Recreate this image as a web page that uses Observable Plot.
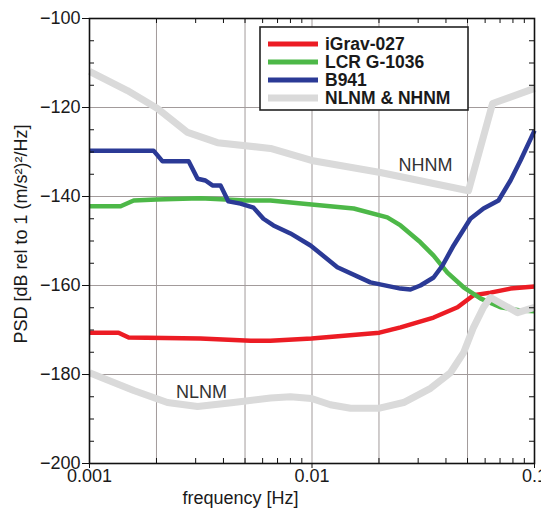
<!DOCTYPE html>
<html>
<head>
<meta charset="utf-8">
<script src="https://cdn.jsdelivr.net/npm/d3@7"></script>
<script src="https://cdn.jsdelivr.net/npm/@observablehq/plot@0.6"></script>
<style>
  html, body { margin: 0; padding: 0; background: #fff; }
  #chart { position: relative; width: 541px; height: 513px; }
</style>
</head>
<body>
<div id="chart"></div>
<script>
// ---- data (frequency in Hz, PSD in dB) ----
const igravFreq = [0.001, 0.00135, 0.0015, 0.00315, 0.0053, 0.0065, 0.00995, 0.0201, 0.025, 0.0352, 0.0451, 0.0532, 0.0634, 0.078, 0.1];
const igravDb   = [-170.6, -170.6, -171.7, -171.9, -172.4, -172.4, -171.9, -170.6, -169.4, -167.2, -164.9, -162.2, -161.6, -160.7, -160.2];

const lcrFreq = [0.001, 0.00138, 0.00158, 0.002, 0.00315, 0.00503, 0.0065, 0.00995, 0.0154, 0.0218, 0.025, 0.0307, 0.0352, 0.0406, 0.048, 0.0571, 0.0703, 0.0865, 0.1];
const lcrDb   = [-142.2, -142.2, -140.9, -140.7, -140.4, -140.9, -140.9, -141.8, -142.7, -144.7, -146.5, -150.3, -153.3, -157.1, -160.4, -162.9, -164.9, -165.6, -165.8];

const b941Freq = [0.001, 0.00194, 0.00213, 0.00279, 0.00306, 0.00332, 0.00357, 0.00388, 0.00421, 0.00477, 0.00546, 0.00605, 0.00671, 0.008, 0.00985, 0.013, 0.0183, 0.025, 0.0277, 0.0307, 0.0352, 0.0386, 0.0433, 0.0515, 0.059, 0.0689, 0.078, 0.0865, 0.1];
const b941Db   = [-129.7, -129.7, -132.1, -132.1, -136.0, -136.4, -137.5, -137.5, -141.1, -141.6, -142.5, -145.0, -146.5, -148.3, -151.0, -155.9, -159.3, -160.7, -160.9, -160.0, -158.2, -155.5, -151.0, -145.0, -142.7, -140.9, -136.4, -131.9, -125.2];

const nhnmFreq = [0.001, 0.00148, 0.00202, 0.00276, 0.00376, 0.00651, 0.00995, 0.0203, 0.0505, 0.0648, 0.1];
const nhnmDb   = [-111.9, -116.2, -120.2, -125.6, -127.9, -129.2, -131.9, -134.6, -138.7, -119.1, -115.7];

const nlnmFreq = [0.001, 0.00158, 0.00224, 0.00306, 0.00444, 0.00651, 0.008, 0.00995, 0.0121, 0.0149, 0.0199, 0.0258, 0.0341, 0.0419, 0.048, 0.0532, 0.059, 0.0634, 0.0839, 0.1];
const nlnmDb   = [-179.6, -183.6, -186.3, -187.2, -186.3, -185.3, -185.0, -185.4, -186.8, -187.6, -187.6, -186.3, -183.1, -179.6, -175.1, -169.4, -164.9, -162.7, -166.1, -164.9];

const seriesNames = ["iGrav-027", "LCR G-1036", "B941", "NLNM & NHNM"];
const seriesColors = ["#ec1c24", "#4db848", "#2b3a96", "#dadada"];

const annotLabels = ["NHNM", "NLNM"];
const annotFreq = [0.0324, 0.00319];
const annotDb = [-133.0, -183.9];

const yTicks = [-200, -180, -160, -140, -120, -100];
const yGrid = [-180, -160, -140, -120];
const yMinor = [-195, -190, -185, -175, -170, -165, -155, -150, -145, -135, -130, -125, -115, -110, -105];
const xMajor = [0.001, 0.01, 0.1];
const xMajorLabels = ["0.001", "0.01", "0.1"];
const xGrid = [0.002, 0.005, 0.01, 0.02, 0.05];
const xMinor = [0.002, 0.003, 0.004, 0.005, 0.006, 0.007, 0.008, 0.009, 0.02, 0.03, 0.04, 0.05, 0.06, 0.07, 0.08, 0.09];

const xLabel = "frequency [Hz]";
const yLabel = "PSD [dB rel to 1 (m/s²)²/Hz]";

// ---- build tables ----
const toRows = (fs, ds) => fs.map((f, i) => ({f, db: ds[i]}));
const igrav = toRows(igravFreq, igravDb);
const lcr = toRows(lcrFreq, lcrDb);
const b941 = toRows(b941Freq, b941Db);
const nhnm = toRows(nhnmFreq, nhnmDb);
const nlnm = toRows(nlnmFreq, nlnmDb);
const annots = annotLabels.map((t, i) => ({t, f: annotFreq[i], db: annotDb[i]}));

const W = 541, H = 513, mL = 89, mR = 7, mT = 18, mB = 50;
const pw = W - mL - mR, ph = H - mT - mB;
const FONT = "'Liberation Sans', Arial, Helvetica, sans-serif";
const minus = d => (d < 0 ? "\u2212" + Math.abs(d) : String(d));
const xFmt = d => xMajorLabels[xMajor.findIndex(v => Math.abs(v - d) < 1e-9)];
const lineOpts = (color, w) => ({x: "f", y: "db", stroke: color, strokeWidth: w, strokeLinejoin: "round", strokeLinecap: "butt"});

const svg = Plot.plot({
  width: W, height: H,
  marginLeft: mL, marginRight: mR, marginTop: mT, marginBottom: mB,
  style: {fontFamily: FONT, fontSize: "18px", color: "#1a1a1a", background: "#fff", overflow: "hidden"},
  x: {type: "log", domain: [0.001, 0.1]},
  y: {domain: [-200, -100]},
  marks: [
    Plot.ruleX(xGrid, {stroke: "#a29b9b", strokeWidth: 1}),
    Plot.ruleY(yGrid, {stroke: "#a29b9b", strokeWidth: 1}),
    Plot.line(nhnm, lineOpts(seriesColors[3], 7)),
    Plot.line(igrav, lineOpts(seriesColors[0], 4.5)),
    Plot.line(lcr, lineOpts(seriesColors[1], 4.5)),
    Plot.line(b941, lineOpts(seriesColors[2], 4.5)),
    Plot.line(nlnm, lineOpts(seriesColors[3], 7)),
    Plot.text(annots, {x: "f", y: "db", text: "t", fontSize: 18, fill: "#333"}),
    // inward minor ticks
    Plot.tickY(yMinor, {y: d => d, stroke: "#111", insetRight: pw - 5}),
    Plot.tickY(yMinor, {y: d => d, stroke: "#111", insetLeft: pw - 5}),
    Plot.tickX(xMinor, {x: d => d, stroke: "#111", insetTop: ph - 5}),
    Plot.tickX(xMinor, {x: d => d, stroke: "#111", insetBottom: ph - 5}),
    Plot.frame({stroke: "#111", strokeWidth: 1.6}),
    Plot.axisY(yTicks, {anchor: "left", tickSize: 7, tickPadding: 2, tickFormat: minus, fontSize: 18, label: null, stroke: "#111"}),
    Plot.axisX(xMajor, {anchor: "bottom", tickSize: 5, tickPadding: 1, tickFormat: xFmt, fontSize: 18, label: null, stroke: "#111"}),
    Plot.text([xLabel], {frameAnchor: "bottom", lineAnchor: "middle", textAnchor: "middle", dx: 240 - (mL + pw / 2), dy: 35, fontSize: 18, fill: "#1a1a1a"}),
    Plot.text([yLabel], {frameAnchor: "left", lineAnchor: "middle", textAnchor: "middle", dx: 21 - mL, dy: -7, rotate: -90, fontSize: 18, fill: "#1a1a1a"})
  ]
});

// ---- legend (inside the plot area, top) ----
const g = d3.select(svg).append("g").attr("class", "legend").attr("text-anchor", "start");
const lx = 260, ly = 27, lw = 208, lh = 83;
g.append("rect").attr("x", lx).attr("y", ly).attr("width", lw).attr("height", lh)
  .attr("fill", "#fff").attr("stroke", "#222").attr("stroke-width", 1.6);
seriesNames.forEach((name, i) => {
  const yy = ly + 17 + i * 18;
  g.append("line").attr("x1", lx + 8).attr("x2", lx + 58).attr("y1", yy).attr("y2", yy)
    .attr("stroke", seriesColors[i]).attr("stroke-width", i === 3 ? 7 : 5);
  g.append("text").attr("x", lx + 65).attr("y", yy + 5.5)
    .attr("text-anchor", "start")
    .attr("font-family", FONT).attr("font-size", 17.5).attr("font-weight", "bold")
    .attr("fill", "#1a1a1a").text(name);
});

document.getElementById("chart").appendChild(svg);
</script>
</body>
</html>
